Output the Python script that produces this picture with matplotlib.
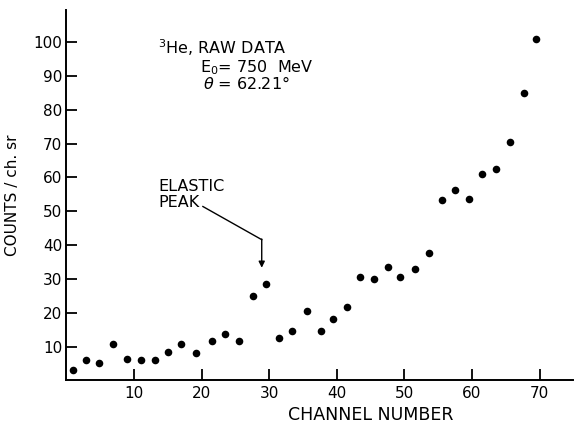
import matplotlib
matplotlib.use("Agg")
import matplotlib.pyplot as plt

matplotlib.rcParams.update(
    {
        "font.family": "DejaVu Sans",
        "axes.spines.top": False,
        "axes.spines.right": False,
    }
)

# raw spectrum, two channels per point
channel = [1.0, 2.9, 4.9, 6.9, 9.0, 11.0, 13.1, 15.0, 17.0, 19.2, 21.5, 23.4,
           25.5, 27.6, 29.6, 31.5, 33.4, 35.6, 37.6, 39.5, 41.5, 43.4, 45.5,
           47.6, 49.4, 51.5, 53.6, 55.6, 57.5, 59.5, 61.5, 63.5, 65.6, 67.7, 69.5]
counts = [3.0, 6.0, 5.0, 10.8, 6.2, 6.0, 6.0, 8.3, 10.8, 8.1, 11.7, 13.6,
          11.7, 24.8, 28.6, 12.6, 14.5, 20.6, 14.7, 18.0, 21.7, 30.5, 29.9,
          33.4, 30.7, 32.9, 37.8, 53.3, 56.4, 53.5, 61.0, 62.4, 70.5, 85.0, 100.9]

x_ticks = [10, 20, 30, 40, 50, 60, 70]
y_ticks = [10, 20, 30, 40, 50, 60, 70, 80, 90, 100]

fig = plt.figure(figsize=(5.74, 4.25), dpi=100)
ax = fig.add_axes([0.1155, 0.105, 0.8836, 0.8715])

ax.scatter(channel, counts, s=30, color="black", zorder=3, linewidths=0)

ax.set_xlim(0, 75)
ax.set_ylim(0, 109.5)
ax.set_xticks(x_ticks)
ax.set_yticks(y_ticks)
ax.tick_params(direction="in", length=8, width=1.3, labelsize=11, colors="black")
ax.tick_params(axis="x", pad=4)
ax.tick_params(axis="y", pad=3)
for side in ("left", "bottom"):
    ax.spines[side].set_linewidth(1.4)

ax.set_xlabel("CHANNEL NUMBER", fontsize=12.5)
ax.xaxis.set_label_coords(0.6, -0.07)
ax.set_ylabel("COUNTS / ch. sr", fontsize=11)
ax.yaxis.set_label_coords(-0.092, 0.5)

# run conditions
ax.text(13.6, 96.5, r"$^3$He, RAW DATA", fontsize=11.5, va="baseline")
ax.text(19.8, 91.2, r"E$_0$= 750  MeV", fontsize=11.5, va="baseline")
ax.text(20.2, 86.1, r"$\theta$ = 62.21°", fontsize=11.5, va="baseline")

# elastic peak marker
ax.text(13.6, 51.4, "ELASTIC\nPEAK", fontsize=11.5, va="baseline", linespacing=1.05)
ax.plot([20.2, 28.9], [51.4, 41.6], color="black", lw=1.0)
ax.annotate("", xy=(28.9, 33.3), xytext=(28.9, 41.8),
            arrowprops=dict(arrowstyle="-|>", color="black", lw=1.0,
                            mutation_scale=9, shrinkA=0, shrinkB=0))

fig.savefig("out.png", dpi=100)
